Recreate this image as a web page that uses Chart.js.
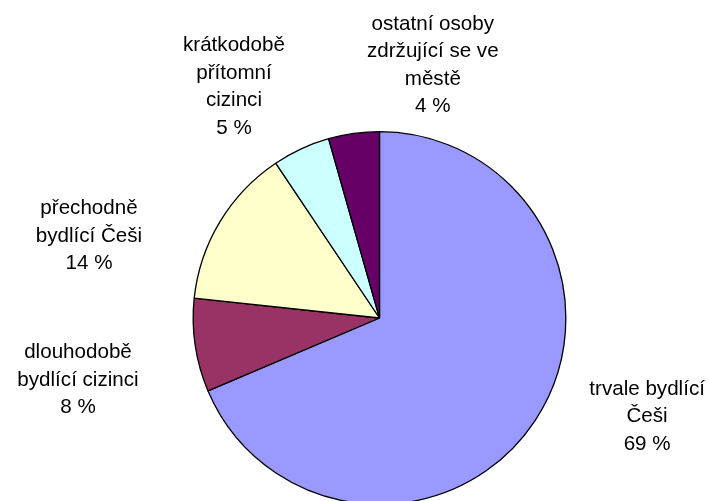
<!DOCTYPE html>
<html>
<head>
<meta charset="utf-8">
<script src="https://cdn.jsdelivr.net/npm/chart.js@4/dist/chart.umd.min.js"></script>
<style>
    html, body { margin: 0; padding: 0; background: #fff; overflow: hidden; }
    #wrap { width: 709px; height: 510px; position: relative; }
</style>
</head>
<body>
<div id="wrap"><canvas id="pieCanvas"></canvas></div>
<script>
"use strict";

const categories = [
    ["trvale bydlící", "Češi"],
    ["dlouhodobě", "bydlící cizinci"],
    ["přechodně", "bydlící Češi"],
    ["krátkodobě", "přítomní", "cizinci"],
    ["ostatní osoby", "zdržující se ve", "městě"],
];
const shares = [68.6, 8.1, 13.9, 5.0, 4.4];
const sliceColors = ["#9999FF", "#993366", "#FFFFCC", "#CCFFFF", "#660066"];

// label centre, in units of the pie radius, from the pie centre
const labelOffsets = [
    [1.436, 0.529],
    [-1.618, 0.332],
    [-1.559, -0.439],
    [-0.781, -1.241],
    [0.286, -1.356],
];

const pieLabels = {
    id: "pieLabels",
    afterDatasetsDraw(chart) {
        const ctx = chart.ctx;
        const meta = chart.getDatasetMeta(0);
        ctx.save();
        ctx.font = "20.6px 'Liberation Sans', Arial, sans-serif";
        ctx.fillStyle = "#000";
        ctx.textAlign = "center";
        ctx.textBaseline = "middle";
        const lineHeight = 27.5;
        meta.data.forEach((arc, i) => {
            const r = arc.outerRadius;
            const cx = arc.x + labelOffsets[i][0] * r;
            const cy = arc.y + labelOffsets[i][1] * r;
            const lines = categories[i].concat([Math.round(shares[i]) + " %"]);
            const top = cy - (lines.length - 1) * lineHeight / 2;
            lines.forEach((line, j) => ctx.fillText(line, cx, top + j * lineHeight));
        });
        ctx.restore();
    },
};

new Chart(document.getElementById("pieCanvas"), {
    type: "pie",
    data: {
        labels: categories.map(c => c.join(" ")),
        datasets: [{
            data: shares,
            backgroundColor: sliceColors,
            borderColor: "#000",
            borderWidth: 1.3,
        }],
    },
    options: {
        responsive: true,
        maintainAspectRatio: false,
        animation: false,
        rotation: 0,
        layout: {
            padding: { top: 131, bottom: 5, left: 192.5, right: 142.5 },
        },
        plugins: {
            legend: { display: false },
            tooltip: { enabled: false },
        },
    },
    plugins: [pieLabels],
});
</script>
</body>
</html>
